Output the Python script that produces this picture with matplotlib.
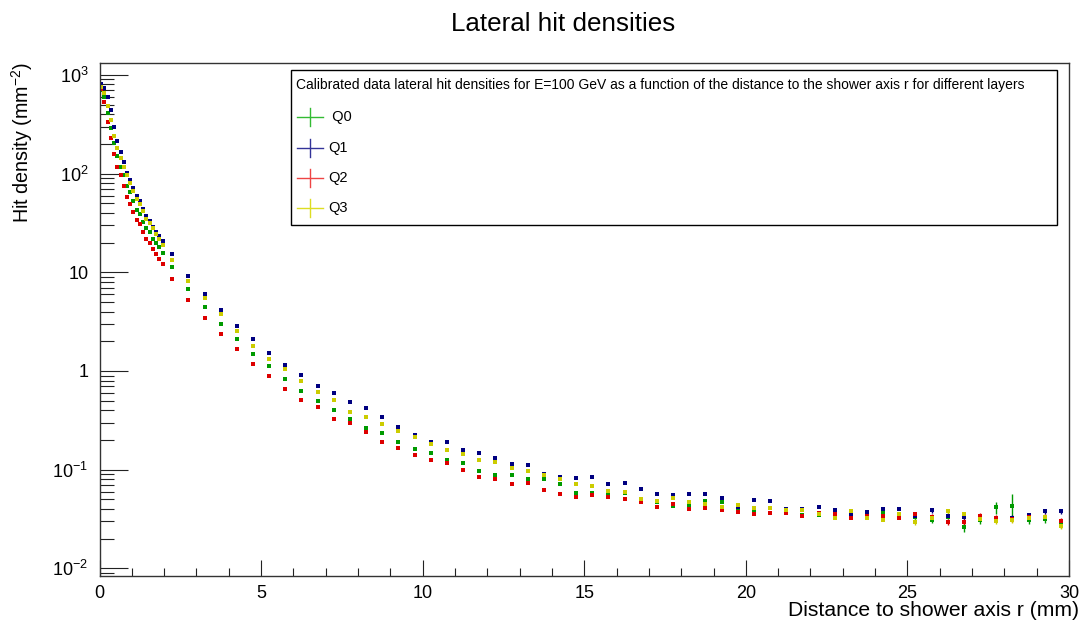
import numpy as np
import matplotlib
matplotlib.use("Agg")
import matplotlib.pyplot as plt
from matplotlib.patches import Rectangle
from matplotlib.lines import Line2D
from matplotlib.ticker import FixedLocator, FixedFormatter, LogLocator, MultipleLocator, NullFormatter

plt.rcParams['font.family'] = ['Liberation Sans', 'DejaVu Sans']
plt.rcParams['mathtext.fontset'] = 'custom'
plt.rcParams['mathtext.rm'] = 'Liberation Sans'
plt.rcParams['mathtext.it'] = 'Liberation Sans:italic'

# bin centres (mm)
r = [0.05, 0.15, 0.25, 0.35, 0.45, 0.55, 0.65, 0.75, 0.85, 0.95,
     1.05, 1.15, 1.25, 1.35, 1.45, 1.55, 1.65, 1.75, 1.85, 1.95,
     2.25, 2.75, 3.25, 3.75, 4.25, 4.75, 5.25, 5.75, 6.25, 6.75,
     7.25, 7.75, 8.25, 8.75, 9.25, 9.75, 10.25, 10.75, 11.25, 11.75,
     12.25, 12.75, 13.25, 13.75, 14.25, 14.75, 15.25, 15.75, 16.25, 16.75,
     17.25, 17.75, 18.25, 18.75, 19.25, 19.75, 20.25, 20.75, 21.25, 21.75,
     22.25, 22.75, 23.25, 23.75, 24.25, 24.75, 25.25, 25.75, 26.25, 26.75,
     27.25, 27.75, 28.25, 28.75, 29.25, 29.75]

# hit densities (mm^-2) per layer
q0 = [703, 597, 411, 288, 203, 150, 117, 96, 75, 65.6,
      52.4, 43.1, 38.7, 32.3, 27.8, 25.5, 22.0, 19.7, 18.1, 15.6,
      11.4, 6.77, 4.48, 2.97, 2.10, 1.48, 1.12, 0.824, 0.631, 0.497,
      0.400, 0.329, 0.263, 0.237, 0.190, 0.163, 0.147, 0.125, 0.118, 0.0970,
      0.0884, 0.0884, 0.0811, 0.0811, 0.0711, 0.0585, 0.0585, 0.0585, 0.0577, 0.0497,
      0.0468, 0.0426, 0.0429, 0.0479, 0.0471, 0.0391, 0.0373, 0.0360, 0.0375, 0.0345,
      0.0345, 0.0348, 0.0348, 0.0348, 0.0361, 0.0348, 0.0332, 0.0311, 0.0334, 0.0261,
      0.0309, 0.0416, 0.0432, 0.0309, 0.0317, 0.0286]
q1 = [809, 731, 593, 444, 294, 212, 166, 131, 101, 86.1,
      71.5, 60.0, 53.1, 44.1, 37.2, 33.3, 29.1, 25.6, 23.2, 21.0,
      15.3, 9.24, 5.99, 4.12, 2.84, 2.10, 1.51, 1.14, 0.918, 0.705,
      0.594, 0.485, 0.419, 0.344, 0.269, 0.225, 0.190, 0.190, 0.160, 0.147,
      0.131, 0.115, 0.112, 0.0904, 0.0849, 0.0830, 0.0849, 0.0711, 0.0728, 0.0637,
      0.0563, 0.0551, 0.0563, 0.0563, 0.0513, 0.0422, 0.0493, 0.0482, 0.0400, 0.0397,
      0.0416, 0.0388, 0.0356, 0.0370, 0.0397, 0.0397, 0.0342, 0.0388, 0.0342, 0.0332,
      0.0332, 0.0322, 0.0324, 0.0348, 0.0379, 0.0379]
q2 = [725, 528, 336, 232, 157, 117, 96, 74.9, 58.3, 49.2,
      40.5, 33.9, 30.6, 25.6, 22.0, 19.7, 17.1, 15.2, 13.6, 12.1,
      8.61, 5.24, 3.47, 2.39, 1.66, 1.19, 0.896, 0.662, 0.508, 0.435,
      0.327, 0.295, 0.241, 0.190, 0.167, 0.140, 0.125, 0.118, 0.0986, 0.0849,
      0.0811, 0.0711, 0.0728, 0.0627, 0.0571, 0.0525, 0.0551, 0.0525, 0.0501, 0.0471,
      0.0422, 0.0449, 0.0397, 0.0406, 0.0388, 0.0373, 0.0356, 0.0364, 0.0364, 0.0340,
      0.0364, 0.0353, 0.0327, 0.0340, 0.0340, 0.0327, 0.0353, 0.0334, 0.0297, 0.0297,
      0.0340, 0.0324, 0.0317, 0.0334, 0.0334, 0.0304]
q3 = [759, 651, 484, 349, 242, 182, 145, 117, 96, 79.8,
      65.9, 55.3, 49.2, 41.5, 34.9, 31.6, 28.1, 24.2, 21.5, 18.9,
      13.3, 8.11, 5.49, 3.78, 2.54, 1.79, 1.32, 1.05, 0.786, 0.608,
      0.508, 0.382, 0.344, 0.288, 0.247, 0.213, 0.182, 0.157, 0.143, 0.125,
      0.120, 0.103, 0.0970, 0.0890, 0.0799, 0.0711, 0.0684, 0.0613, 0.0598, 0.0505,
      0.0479, 0.0517, 0.0468, 0.0449, 0.0419, 0.0442, 0.0406, 0.0406, 0.0391, 0.0388,
      0.0353, 0.0327, 0.0382, 0.0327, 0.0311, 0.0356, 0.0293, 0.0324, 0.0379, 0.0353,
      0.0319, 0.0304, 0.0309, 0.0322, 0.0328, 0.0269]

# statistical errors, only visible in the tail (r >= 25.25 mm)
q0_err_tail = [0.002, 0.002, 0.002, 0.003, 0.003, 0.006, 0.013, 0.003, 0.003, 0.003]
q1_err_tail = [0.002, 0.002, 0.002, 0.002, 0.002, 0.002, 0.002, 0.002, 0.002, 0.002]
q2_err_tail = [0.002, 0.002, 0.002, 0.002, 0.002, 0.002, 0.002, 0.002, 0.002, 0.002]
q3_err_tail = [0.002, 0.002, 0.002, 0.002, 0.002, 0.002, 0.002, 0.002, 0.002, 0.002]

labels = [' Q0', 'Q1', 'Q2', 'Q3']
colors = ['#009a00', '#000080', '#dd0000', '#cccc00']
legend_colors = ['#33bb33', '#333399', '#ee4444', '#dddd22']

W, H = 1084, 625
fig = plt.figure(figsize=(W / 100, H / 100), dpi=100)
ax = fig.add_axes([99.5 / W, 1 - 575.5 / H, (1069 - 99.5) / W, (575.5 - 62.7) / H])

n_core = len(r) - 10
for vals, tail, col in zip([q0, q1, q2, q3],
                           [q0_err_tail, q1_err_tail, q2_err_tail, q3_err_tail], colors):
    err = np.concatenate([np.zeros(n_core), tail])
    ax.errorbar(r, vals, yerr=err, fmt='s', ms=2.7, mew=0, color=col,
                ecolor=col, elinewidth=1, capsize=0)

ax.set_yscale('log')
ax.set_xlim(0, 30)
ax.set_ylim(0.00847, 1330)

ax.xaxis.set_major_locator(MultipleLocator(5))
ax.xaxis.set_minor_locator(MultipleLocator(1))
ax.yaxis.set_major_locator(FixedLocator([1e-2, 1e-1, 1, 10, 100, 1000]))
ax.yaxis.set_major_formatter(FixedFormatter([r'$10^{-2}$', r'$10^{-1}$', '1', '10',
                                             r'$10^{2}$', r'$10^{3}$']))
ax.yaxis.set_minor_locator(LogLocator(base=10, subs=np.arange(2, 10), numticks=20))
ax.yaxis.set_minor_formatter(NullFormatter())

ax.tick_params(axis='both', which='both', direction='in', top=False, right=False,
               labelsize=13, width=0.8, color='#222222')
ax.tick_params(axis='y', which='major', length=20, pad=8)
ax.tick_params(axis='y', which='minor', length=10)
ax.tick_params(axis='x', which='major', length=11.5, pad=7)
ax.tick_params(axis='x', which='minor', length=5.8)
for s in ax.spines.values():
    s.set_linewidth(1.0)
    s.set_color('#333333')


def px(x, y):
    return x / W, 1 - y / H


fig.text(*px(563, 31), 'Lateral hit densities', ha='center', va='baseline', fontsize=18.7)
fig.text(*px(1079, 610), 'Distance to shower axis r (mm)', ha='right', va='center', fontsize=15.2)
fig.text(*px(22, 62), r'Hit density (mm$^{-2}$)', ha='center', va='top', rotation=90, fontsize=14.2)

# legend box drawn like the ROOT TLegend
x0, y0 = px(291, 225)
x1, y1 = px(1057, 70)
fig.add_artist(Rectangle((x0, y0), x1 - x0, y1 - y0, transform=fig.transFigure,
                         fill=False, edgecolor='black', lw=1.0))
fig.text(*px(296, 85), 'Calibrated data lateral hit densities for E=100 GeV as a function of '
         'the distance to the shower axis r for different layers',
         ha='left', va='center', fontsize=10)
for yy, lab, col in zip([116.7, 148.3, 178.3, 208.3], labels, legend_colors):
    xa, ya = px(297, yy)
    xb, _ = px(323, yy)
    xc, yc0 = px(310, yy - 9)
    _, yc1 = px(310, yy + 9)
    fig.add_artist(Line2D([xa, xb], [ya, ya], transform=fig.transFigure, color=col, lw=1.0))
    fig.add_artist(Line2D([xc, xc], [yc0, yc1], transform=fig.transFigure, color=col, lw=1.0))
    fig.text(*px(328, yy), lab, ha='left', va='center', fontsize=10.5)

fig.savefig('out.png', dpi=100)
